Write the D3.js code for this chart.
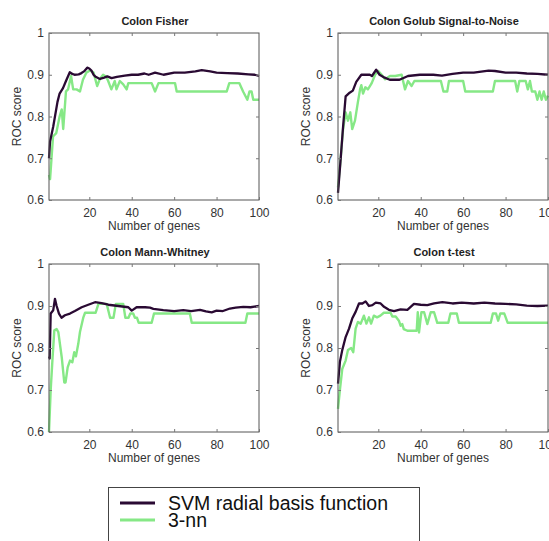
<!DOCTYPE html>
<html>
<head>
<meta charset="utf-8">
<script src="https://cdn.jsdelivr.net/npm/d3@7"></script>
<style>
  body { margin: 0; background: #fff; }
  svg { display: block; font-family: "Liberation Sans", Arial, sans-serif; }
</style>
</head>
<body>
<script>
// ROC score vs number of genes, [genes, score]
var fisherSvm = [[1,0.70],[1.5,0.74],[3,0.776],[5,0.835],[6,0.855],[7.6,0.868],[9,0.885],[10.8,0.906],[12,0.902],[13,0.9],[15,0.901],[16.3,0.904],[17.5,0.908],[19,0.917],[20,0.915],[21,0.91],[22,0.9],[23,0.895],[25,0.89],[27,0.893],[28.5,0.896],[30.5,0.892],[33,0.895],[36.7,0.898],[40,0.9],[43,0.9],[46,0.903],[48,0.9],[51,0.905],[55,0.9],[60,0.905],[65,0.905],[70,0.908],[73,0.911],[77,0.908],[80,0.905],[85,0.904],[90,0.903],[95,0.901],[98,0.9],[100,0.897]];
var fisherKnn = [[1,0.66],[1.5,0.65],[2.9,0.752],[4.4,0.76],[6,0.8],[7,0.817],[7.7,0.77],[9,0.86],[10,0.865],[11.4,0.897],[12.4,0.865],[14,0.865],[15.6,0.86],[17,0.888],[18.6,0.905],[20.3,0.91],[22,0.905],[23.7,0.873],[25,0.89],[26.5,0.9],[28,0.895],[28.9,0.885],[30.4,0.865],[32,0.885],[32.8,0.865],[34.4,0.885],[36,0.877],[37.6,0.865],[38.4,0.88],[49.4,0.88],[51,0.86],[52.6,0.88],[60.4,0.88],[61.2,0.86],[84.8,0.86],[86,0.88],[90.7,0.88],[92.5,0.86],[94.5,0.84],[95.5,0.86],[96.5,0.86],[97.3,0.84],[100,0.84]];

var golubSvm = [[1,0.617],[2.1,0.688],[3.4,0.776],[4.6,0.848],[6.5,0.857],[8,0.862],[9.6,0.883],[12,0.9],[16,0.9],[17,0.897],[19,0.912],[20.6,0.9],[23,0.893],[25.4,0.888],[30,0.888],[34,0.897],[39.6,0.9],[45.9,0.9],[50,0.898],[55,0.902],[60,0.905],[65,0.905],[72,0.91],[75,0.909],[80,0.905],[85,0.905],[90,0.903],[95,0.902],[100,0.9]];
var golubKnn = [[1,0.63],[2.1,0.69],[3.4,0.77],[4.6,0.81],[5.7,0.79],[6.8,0.81],[7.7,0.77],[9,0.79],[10.4,0.835],[11.4,0.865],[12,0.875],[12.8,0.855],[13.9,0.87],[15.1,0.865],[16.9,0.88],[18.5,0.9],[20,0.909],[21.6,0.9],[23.2,0.889],[25.5,0.897],[28,0.897],[31,0.9],[32.6,0.865],[34,0.885],[35.7,0.873],[37,0.885],[49.5,0.885],[50.7,0.86],[52.5,0.86],[53.3,0.885],[60,0.885],[61,0.86],[74,0.86],[75,0.885],[84.5,0.885],[85.5,0.86],[86.5,0.885],[89.5,0.885],[90.5,0.865],[91.5,0.885],[92.4,0.86],[94,0.86],[95,0.84],[96,0.86],[97,0.84],[98,0.86],[99,0.84],[100,0.85]];

var mannSvm = [[1,0.78],[1.3,0.775],[1.8,0.882],[3,0.89],[3.8,0.917],[4.6,0.9],[5.7,0.882],[6.9,0.872],[8.5,0.878],[10.9,0.882],[13.2,0.888],[16.4,0.897],[19.5,0.903],[22.7,0.909],[25.8,0.907],[29,0.903],[33.7,0.9],[38.4,0.897],[40,0.889],[42.3,0.897],[46.3,0.897],[48.6,0.896],[50.2,0.893],[54.9,0.89],[60,0.888],[64.3,0.89],[68,0.888],[72.2,0.891],[75,0.887],[77.7,0.885],[80,0.889],[83,0.888],[86.3,0.894],[89,0.896],[92.6,0.898],[96,0.897],[100,0.9]];
var mannKnn = [[1,0.6],[1.8,0.7],[2.6,0.77],[3.5,0.842],[4.6,0.845],[5.4,0.838],[7,0.778],[8.2,0.718],[8.8,0.718],[9.8,0.754],[10.9,0.77],[12,0.766],[12.9,0.79],[13.7,0.78],[14.8,0.81],[15.6,0.838],[17.2,0.873],[18,0.884],[23,0.884],[24.3,0.905],[28.2,0.905],[29.8,0.872],[31.4,0.872],[32.5,0.905],[36,0.905],[37,0.872],[38.5,0.872],[39.3,0.882],[40.7,0.882],[41.5,0.872],[42.5,0.872],[43.3,0.86],[49.4,0.86],[50.5,0.882],[67.4,0.882],[68.3,0.86],[93.6,0.86],[94.5,0.882],[100,0.882]];

var ttestSvm = [[1,0.715],[1.9,0.767],[3,0.795],[4.6,0.826],[6.2,0.846],[7.7,0.87],[9.3,0.886],[10.9,0.906],[12.5,0.906],[14,0.911],[15.6,0.9],[17.2,0.902],[18.8,0.908],[21.1,0.906],[22.7,0.898],[25,0.891],[27.4,0.888],[30.5,0.892],[33.7,0.891],[36.8,0.905],[40,0.903],[43.1,0.902],[46.3,0.906],[50.2,0.909],[55,0.906],[59.3,0.908],[65,0.906],[70,0.908],[75,0.906],[80,0.905],[85,0.904],[90,0.901],[95,0.9],[100,0.901]];
var ttestKnn = [[1,0.655],[1.9,0.7],[3,0.75],[4.6,0.77],[5.7,0.795],[7.2,0.8],[8.2,0.79],[9.3,0.846],[10.4,0.862],[11.7,0.858],[13.2,0.877],[14.4,0.858],[15.6,0.873],[16.6,0.858],[17.9,0.877],[19.4,0.873],[21,0.877],[22.6,0.884],[25.8,0.884],[26.6,0.875],[28.2,0.875],[29.7,0.865],[30.5,0.853],[31.3,0.857],[32,0.845],[33.7,0.841],[38.1,0.841],[38.6,0.885],[39.2,0.837],[40.3,0.885],[41.6,0.885],[43.1,0.857],[44.7,0.885],[46.3,0.885],[47.8,0.86],[53,0.86],[54,0.882],[57,0.882],[58,0.86],[73,0.86],[74,0.882],[75.5,0.882],[76.5,0.865],[77.5,0.882],[79.4,0.882],[81,0.86],[100,0.86]];

var titles = ["Colon Fisher", "Colon Golub Signal-to-Noise", "Colon Mann-Whitney", "Colon t-test"];
var xTicks = [20, 40, 60, 80, 100];
var yTicks = [0.6, 0.7, 0.8, 0.9, 1];
var legendLabels = ["SVM radial basis function", "3-nn"];

var svmColor = "#2a0a33",
    knnColor = "#86e886";

var width = 549, height = 541;

var svg = d3.select("body").append("svg")
    .attr("width", width)
    .attr("height", height);

// panel boxes: left, right, top, bottom in px
var boxes = [
  {l: 49,  r: 259, t: 33,  b: 200},
  {l: 338, r: 548, t: 33,  b: 200},
  {l: 49,  r: 259, t: 264, b: 432},
  {l: 338, r: 548, t: 264, b: 432}
];
var series = [[fisherSvm, fisherKnn], [golubSvm, golubKnn], [mannSvm, mannKnn], [ttestSvm, ttestKnn]];

boxes.forEach(function(bx, i) {
  var x = d3.scaleLinear().domain([1, 100]).range([bx.l, bx.r]);
  var y = d3.scaleLinear().domain([0.6, 1]).range([bx.b, bx.t]);
  var g = svg.append("g");

  var line = d3.line()
      .x(function(d) { return x(d[0]); })
      .y(function(d) { return y(d[1]); });

  // 3-nn first, svm on top
  g.append("path")
      .datum(series[i][1])
      .attr("fill", "none")
      .attr("stroke", knnColor)
      .attr("stroke-width", 2.4)
      .attr("stroke-linejoin", "round")
      .attr("d", line);

  g.append("path")
      .datum(series[i][0])
      .attr("fill", "none")
      .attr("stroke", svmColor)
      .attr("stroke-width", 2.3)
      .attr("stroke-linejoin", "round")
      .attr("d", line);

  // box
  g.append("rect")
      .attr("x", bx.l).attr("y", bx.t)
      .attr("width", bx.r - bx.l).attr("height", bx.b - bx.t)
      .attr("fill", "none")
      .attr("stroke", "#555")
      .attr("stroke-width", 1);

  // axes with inward ticks, matlab style
  var xb = g.append("g")
      .attr("transform", "translate(0," + bx.b + ")")
      .call(d3.axisBottom(x).tickValues(xTicks).tickSize(-3).tickPadding(8).tickFormat(d3.format("d")));
  var xt = g.append("g")
      .attr("transform", "translate(0," + bx.t + ")")
      .call(d3.axisTop(x).tickValues(xTicks.slice(0, 4)).tickSize(-3).tickFormat(""));
  var yl = g.append("g")
      .attr("transform", "translate(" + bx.l + ",0)")
      .call(d3.axisLeft(y).tickValues(yTicks).tickSize(-3).tickPadding(5)
        .tickFormat(function(d) { return d === 1 ? "1" : d3.format(".1f")(d); }));
  var yr = g.append("g")
      .attr("transform", "translate(" + bx.r + ",0)")
      .call(d3.axisRight(y).tickValues(yTicks.slice(1, 4)).tickSize(-3).tickFormat(""));

  [xb, xt, yl, yr].forEach(function(a) {
    a.select(".domain").remove();
    a.selectAll("line").attr("stroke", "#777");
    a.selectAll("text").attr("fill", "#333").attr("font-size", 12).attr("font-family", "Liberation Sans, Arial, sans-serif");
  });

  g.append("text")
      .attr("x", (bx.l + bx.r) / 2 + 1)
      .attr("y", bx.t - 8)
      .attr("text-anchor", "middle")
      .attr("font-size", 11)
      .attr("font-weight", "bold")
      .attr("fill", "#222")
      .text(titles[i]);

  g.append("text")
      .attr("x", 154 + (bx.l - 49))
      .attr("y", bx.b + 30)
      .attr("text-anchor", "middle")
      .attr("font-size", 12)
      .attr("fill", "#333")
      .text("Number of genes");

  g.append("text")
      .attr("transform", "translate(" + (bx.l - 28) + "," + ((bx.t + bx.b) / 2) + ") rotate(-90)")
      .attr("text-anchor", "middle")
      .attr("font-size", 12)
      .attr("fill", "#333")
      .text("ROC score");
});

// legend
var leg = svg.append("g");
leg.append("rect")
    .attr("x", 108.5).attr("y", 487.5)
    .attr("width", 311).attr("height", 70)
    .attr("fill", "#fff")
    .attr("stroke", "#444")
    .attr("stroke-width", 1);

[svmColor, knnColor].forEach(function(c, i) {
  var yy = 503 + i * 17;
  leg.append("line")
      .attr("x1", 120).attr("x2", 155)
      .attr("y1", yy).attr("y2", yy)
      .attr("stroke", c)
      .attr("stroke-width", 3);
  leg.append("text")
      .attr("x", 168)
      .attr("y", yy + 7)
      .attr("font-size", 19.5)
      .attr("fill", "#111")
      .text(legendLabels[i]);
});
</script>
</body>
</html>
